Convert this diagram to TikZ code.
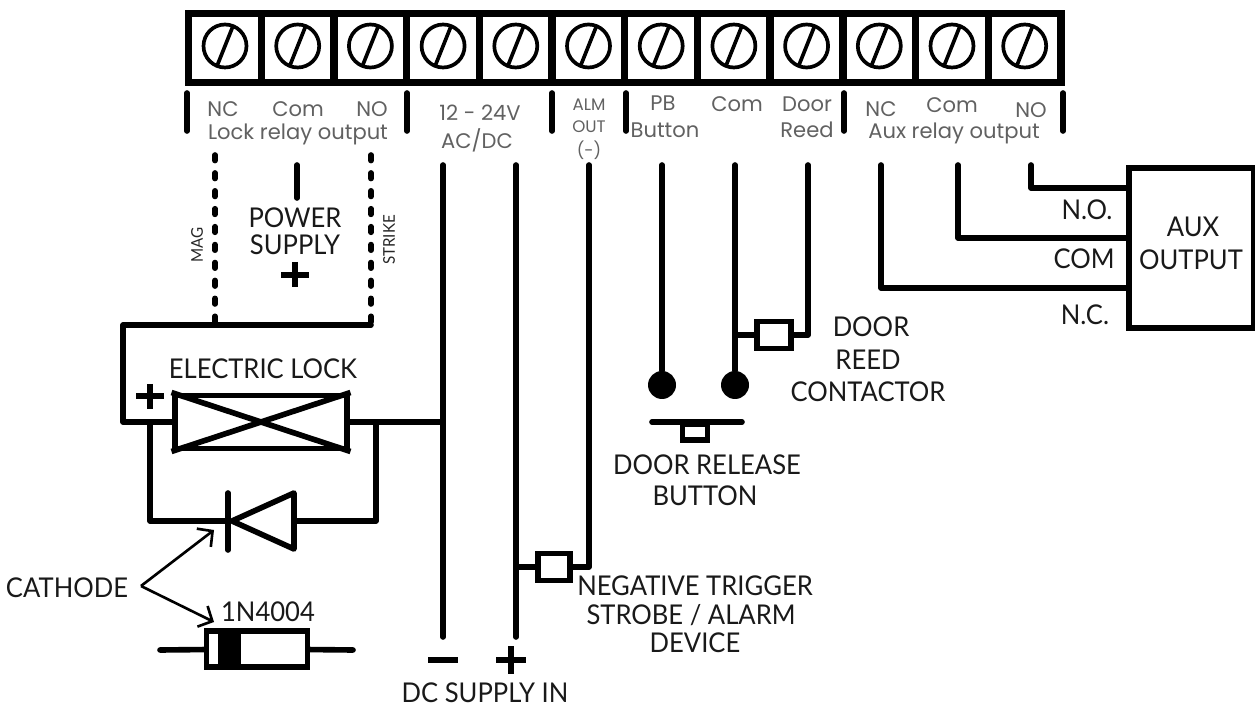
\documentclass[tikz,border=0pt]{standalone}
\usetikzlibrary{calc,arrows.meta}
\usepackage{fontspec}
\setmainfont{Poppins}
\newfontfamily\isofont[FakeStretch=0.94]{Lato}
\begin{document}
\begin{tikzpicture}[
    x=0.02cm, y=-0.02cm,
    wire/.style={line width=3.2pt,line join=round,line cap=round},
    dotted wire/.style={line width=3.2pt,dash pattern=on 3.2pt off 7pt,line cap=round},
    thin wire/.style={line width=1.5pt},
    part/.style={rectangle,draw,fill=white,line width=3.4pt,inner sep=0pt},
    screw/.style={circle,draw,line width=2.1pt,inner sep=0pt,minimum size=0.86cm},
    cell/.style={rectangle,draw,line width=4.2pt,inner sep=0pt,minimum width=1.454cm,minimum height=1.38cm},
    term/.style={text=black!62,font=\fontsize{12}{14}\selectfont,inner sep=0pt},
    small term/.style={text=black!62,font=\fontsize{9.5}{11}\selectfont,inner sep=0pt},
    tag/.style={text=black!90,font=\isofont\fontsize{15.5}{18}\selectfont,inner sep=0pt},
    mini/.style={text=black!85,font=\isofont\fontsize{9.2}{10}\selectfont,inner sep=0pt,rotate=90},
    ball/.style={circle,fill=black,inner sep=0pt,minimum size=0.56cm},
    sign/.style={line width=3.4pt}
    ]
    \useasboundingbox (0,0) rectangle (1255,709);

    % terminal block
    \foreach \i in {1,...,12} {
        \node (cell\i) at ({188.5+72.7*(\i-0.5)}, 48) [cell] {};
        \node (screw\i) at ({225+72.7*(\i-1)}, 46) [screw] {};
        \draw [line width=2.1pt] ($(screw\i)+(-8,20)$) -- ($(screw\i)+(8,-20)$);
    }
    \foreach \i/\x in {a/187, b/407, c/552, d/626, e/844, f/1063} {
        \coordinate (tick\i) at (\x, 93);
        \draw [wire] (tick\i) -- (\x, 131);
    }

    % terminal labels
    \node (lnc) at (223, 109) [term] {NC};
    \node (lcom) at (298, 109) [term] {Com};
    \node (lno) at (372, 109) [term] {NO};
    \node (llock) at (298, 134) [term] {Lock relay output};
    \node (lvolt) at (480, 113) [term] {12 - 24V};
    \node (lac) at (477, 140) [term] {AC/DC};
    \node (lalm) at (589, 105) [small term] {ALM};
    \node (lout) at (589, 127) [small term] {OUT};
    \node (lneg) at (589, 150) [small term] {(-)};
    \node (lpb) at (663, 103) [term] {PB};
    \node (lbutton) at (665, 130) [term] {Button};
    \node (lcom2) at (737, 104) [term] {Com};
    \node (ldoor) at (807, 104) [term] {Door};
    \node (lreed) at (807, 130) [term] {Reed};
    \node (lnc2) at (881, 109) [term] {NC};
    \node (lcom3) at (952, 105) [term] {Com};
    \node (lno3) at (1031, 110) [term] {NO};
    \node (laux) at (954, 133) [term] {Aux relay output};

    % wire ends
    \coordinate (mag) at (215, 155);
    \coordinate (strike) at (371, 155);
    \coordinate (dcneg) at (443, 165);
    \coordinate (dcpos) at (516, 165);
    \coordinate (alm) at (589, 165);
    \coordinate (pb) at (662, 165);
    \coordinate (com) at (735, 165);
    \coordinate (reed) at (808, 165);
    \coordinate (auxnc) at (881, 165);
    \coordinate (auxcom) at (958, 165);
    \coordinate (auxno) at (1031, 165);

    % aux output
    \node (aux) at (1191, 248) [part,minimum width=2.5cm,minimum height=3.2cm] {};
    \node (auxa) at (1193, 227) [tag] {AUX};
    \node (auxb) at (1191, 260) [tag] {OUTPUT};
    \draw [wire] (auxno) |- (1127, 188);
    \draw [wire] (auxcom) |- (1127, 238);
    \draw [wire] (auxnc) |- (1127, 288);
    \node (tno) at (1087, 210) [tag] {N.O.};
    \node (tcom) at (1084, 259) [tag] {COM};
    \node (tnc) at (1085, 315) [tag] {N.C.};

    % door reed and button
    \node (btn1) at (662, 385) [ball] {};
    \node (btn2) at (735, 385) [ball] {};
    \draw [wire] (pb) -- (btn1);
    \draw [wire] (com) -- (btn2);
    \node (reedbox) at (774, 335) [part,minimum width=0.68cm,minimum height=0.54cm] {};
    \draw [wire] (735, 335) -- (reedbox);
    \draw [wire] (reed) |- (reedbox);
    \node (door) at (871, 327) [tag] {DOOR};
    \node (reedt) at (868, 360) [tag] {REED};
    \node (contact) at (868, 392) [tag] {CONTACTOR};
    \coordinate (barl) at (652, 422);
    \coordinate (barr) at (742, 422);
    \node (push) at (695, 432) [part,minimum width=0.5cm,minimum height=0.32cm] {};
    \draw [wire] (barl) -- (barr);
    \node (rel) at (707, 465) [tag] {DOOR RELEASE};
    \node (relb) at (705, 496) [tag] {BUTTON};

    % supply
    \draw [wire] (dcneg) -- (443, 637);
    \draw [wire] (dcpos) -- (516, 637);
    \draw [sign] (428, 660) -- (458, 660);
    \draw [sign] (496, 660) -- (526, 660);
    \draw [sign] (511, 646) -- (511, 674);
    \node (dcin) at (485, 693) [tag] {DC SUPPLY IN};

    % alarm device
    \node (strobe) at (554, 567) [part,minimum width=0.64cm,minimum height=0.54cm] {};
    \draw [wire] (alm) |- (strobe);
    \draw [wire] (516, 567) -- (strobe);
    \node (neg1) at (695, 586) [tag] {NEGATIVE TRIGGER};
    \node (neg2) at (691, 615) [tag] {STROBE / ALARM};
    \node (neg3) at (695, 643) [tag] {DEVICE};

    % power supply
    \draw [wire] (297, 165) -- (297, 198);
    \node (psa) at (295, 218) [tag] {POWER};
    \node (psb) at (295, 245) [tag] {SUPPLY};
    \draw [sign] (281, 275) -- (309, 275);
    \draw [sign] (295, 262) -- (295, 287);
    \node (tmag) at (197, 245) [mini] {MAG};
    \node (tstrike) at (389, 240) [mini] {STRIKE};
    \draw [dotted wire] (mag) -- (215, 325);
    \draw [dotted wire] (strike) -- (371, 325);

    % electric lock
    \node (lock) at (261, 422) [part,minimum width=3.46cm,minimum height=1.06cm] {};
    \draw [line width=3.2pt] (lock.north west) -- (lock.south east);
    \draw [line width=3.2pt] (lock.south west) -- (lock.north east);
    \draw [wire] (371, 325) -- (123, 325) |- (lock.west);
    \draw [wire] (lock.east) -- (443, 422);
    \node (ltext) at (263, 369) [tag] {ELECTRIC LOCK};
    \draw [sign] (136, 396) -- (164, 396);
    \draw [sign] (150, 384) -- (150, 409);

    % protection diode
    \coordinate (kath) at (228, 521);
    \coordinate (anode) at (295, 521);
    \draw [wire] (150, 422) |- (kath);
    \draw [wire] (376, 422) |- (anode);
    \draw [wire] (228, 493) -- (228, 550);
    \draw [wire,fill=white] (232, 521) -- (294, 493) -- (294, 549) -- cycle;
    \node (cathode) at (67, 588) [tag] {CATHODE};
    \coordinate (fork) at (141, 586);
    \coordinate (cat1) at (214, 530);
    \coordinate (cat2) at (214, 622);
    \draw [thin wire,-{Straight Barb[length=2.2mm,width=4.6mm]}] (fork) -- (cat1);
    \draw [thin wire,-{Straight Barb[length=2.2mm,width=4.6mm]}] (fork) -- (cat2);

    % diode package
    \node (type) at (268, 612) [tag] {1N4004};
    \coordinate (leadl) at (160, 650);
    \coordinate (leadr) at (353, 650);
    \node (pack) at (257, 649) [part,minimum width=2.02cm,minimum height=0.72cm] {};
    \node (band) at (229, 649) [rectangle,fill=black,inner sep=0pt,minimum width=0.46cm,minimum height=0.72cm] {};
    \draw [wire] (leadl) -- (pack);
    \draw [wire] (pack) -- (leadr);
\end{tikzpicture}
\end{document}
